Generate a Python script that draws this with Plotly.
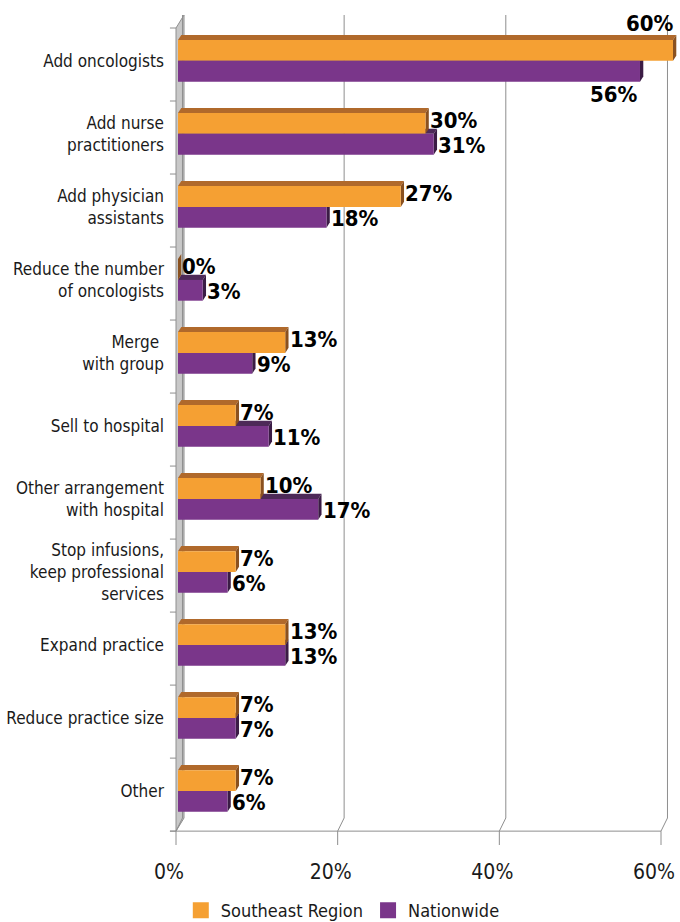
import plotly.graph_objects as go

# ---- data -------------------------------------------------------------
categories = [
    "Add oncologists",
    "Add nurse<br>practitioners",
    "Add physician<br>assistants",
    "Reduce the number<br>of oncologists",
    "Merge <br>with group",
    "Sell to hospital",
    "Other arrangement<br>with hospital",
    "Stop infusions,<br>keep professional<br>services",
    "Expand practice",
    "Reduce practice size",
    "Other",
]
southeast = [60, 30, 27, 0, 13, 7, 10, 7, 13, 7, 7]
nationwide = [56, 31, 18, 3, 9, 11, 17, 6, 13, 7, 6]
tick_values = [0, 20, 40, 60]
tick_labels = ["0%", "20%", "40%", "60%"]
series_names = ["Southeast Region", "Nationwide"]

# ---- styling ----------------------------------------------------------
ORANGE, ORANGE_TOP, ORANGE_SIDE = "#F5A033", "#B0692B", "#8A511F"
PURPLE, PURPLE_TOP, PURPLE_SIDE = "#7A368A", "#4D2958", "#3B1C45"
GRID = "#8E8E8E"
WALL = "#C8C8C8"
TEXT = "#1A1A1A"
LABEL_FONT = "DejaVu Sans Condensed, DejaVu Sans, sans-serif"
AXIS_FONT = "DejaVu Sans Condensed, DejaVu Sans, sans-serif"

# geometry of the pseudo-3D box (rows on y, percent on x)
Y_TOP, Y_BACK, Y_FLOOR, Y_BOTTOM = -0.678, 10.32, 10.5, 10.69
BACK_SHIFT = 0.8      # back plane offset in percent
BAR_W = 0.285         # bar thickness in rows
DX, DY = 0.4, 0.07    # extrusion depth of each bar

n = len(categories)
split = [i - 0.05 for i in range(n)]
se_y = [s - BAR_W / 2 for s in split]
nw_y = [s + BAR_W / 2 for s in split]

fig = go.Figure()

fig.add_trace(go.Bar(
    x=southeast, y=se_y, orientation="h", width=BAR_W,
    marker=dict(color=ORANGE, line=dict(width=0)),
    xaxis="x2", yaxis="y", showlegend=False, hoverinfo="x",
))
fig.add_trace(go.Bar(
    x=nationwide, y=nw_y, orientation="h", width=BAR_W,
    marker=dict(color=PURPLE, line=dict(width=0)),
    xaxis="x2", yaxis="y", showlegend=False, hoverinfo="x",
))

# legend entries with larger square swatches
for name, col in zip(series_names, [ORANGE, PURPLE]):
    fig.add_trace(go.Scatter(
        x=[None], y=[None], mode="markers", name=name,
        marker=dict(symbol="square", size=16, color=col),
        xaxis="x", yaxis="y",
    ))

shapes = []

# left wall
shapes.append(dict(
    type="path", xref="x", yref="y", layer="below",
    path=f"M 0,-0.5 L 0.99,{Y_TOP} L 0.99,{Y_BACK} L 0,{Y_FLOOR} Z",
    fillcolor=WALL, line=dict(color=GRID, width=1),
))
# row separator ticks on the wall
for k in range(n + 1):
    b = -0.5 + k
    shapes.append(dict(
        type="line", xref="x", yref="y", layer="below",
        x0=-0.75, x1=0, y0=b, y1=b, line=dict(color=GRID, width=1),
    ))
# floor edge
shapes.append(dict(
    type="line", xref="x", yref="y", layer="below",
    x0=-0.75, x1=tick_values[-1], y0=Y_FLOOR, y1=Y_FLOOR,
    line=dict(color=GRID, width=1),
))
# back-plane gridlines folding down to the floor ticks
for g in tick_values:
    shapes.append(dict(
        type="path", xref="x", yref="y", layer="below",
        path=(f"M {g + BACK_SHIFT},{Y_TOP} L {g + BACK_SHIFT},{Y_BACK} "
              f"L {g},{Y_FLOOR} L {g},{Y_BOTTOM}"),
        line=dict(color=GRID, width=1),
    ))

# extruded top and side faces of every bar
def faces(values, ys, top_col, side_col):
    out = []
    for v, yc in zip(values, ys):
        t, b = yc - BAR_W / 2, yc + BAR_W / 2
        out.append(dict(
            type="path", xref="x2", yref="y", layer="below",
            path=f"M 0,{t} L {v},{t} L {v + DX},{t - DY} L {DX},{t - DY} Z",
            fillcolor=top_col, line=dict(width=0),
        ))
        out.append(dict(
            type="path", xref="x2", yref="y", layer="below",
            path=f"M {v},{t} L {v + DX},{t - DY} L {v + DX},{b - DY} L {v},{b} Z",
            fillcolor=side_col, line=dict(width=0),
        ))
    return out

shapes += faces(nationwide, nw_y, PURPLE_TOP, PURPLE_SIDE)
shapes += faces(southeast, se_y, ORANGE_TOP, ORANGE_SIDE)

# value labels
annotations = []
lab_font = dict(family=LABEL_FONT, size=22, color="#000000", weight="bold")
for i in range(n):
    s, w = southeast[i], nationwide[i]
    if max(s, w) > 50:
        # long bars: labels sit above / below the bar ends
        annotations.append(dict(
            x=s + DX, y=se_y[i] - BAR_W / 2 - DY, xref="x2", yref="y",
            text=f"{s}%", showarrow=False, xanchor="right", yanchor="bottom",
            font=lab_font, yshift=-3,
        ))
        annotations.append(dict(
            x=w, y=nw_y[i] + BAR_W / 2, xref="x2", yref="y",
            text=f"{w}%", showarrow=False, xanchor="right", yanchor="top",
            font=lab_font, yshift=2,
        ))
    else:
        annotations.append(dict(
            x=s + DX, y=se_y[i], xref="x2", yref="y",
            text=f"{s}%", showarrow=False, xanchor="left", yanchor="middle",
            font=lab_font, xshift=-1, yshift=3,
        ))
        annotations.append(dict(
            x=w + DX, y=nw_y[i], xref="x2", yref="y",
            text=f"{w}%", showarrow=False, xanchor="left", yanchor="middle",
            font=lab_font, xshift=-1, yshift=-1,
        ))

fig.update_layout(
    width=680, height=922,
    margin=dict(l=168, r=0, t=15, b=77, autoexpand=False),
    paper_bgcolor="white", plot_bgcolor="white",
    barmode="overlay",
    shapes=shapes,
    annotations=annotations,
    xaxis=dict(
        range=[-0.99, 62.35], tickvals=tick_values, ticktext=tick_labels,
        showgrid=False, zeroline=False, showline=False, ticks="",
        tickfont=dict(family=AXIS_FONT, size=21, color=TEXT),
        ticklabelshift=-7, ticklabelstandoff=12, automargin=False,
    ),
    xaxis2=dict(
        range=[-1.21, 60.85], overlaying="x", anchor="y", visible=False,
    ),
    yaxis=dict(
        range=[Y_BOTTOM, Y_TOP], tickvals=split, ticktext=categories,
        showgrid=False, zeroline=False, showline=False, ticks="",
        tickfont=dict(family=AXIS_FONT, size=17, color=TEXT),
        ticklabelstandoff=3, automargin=False,
    ),
    legend=dict(
        orientation="h", x=0.025, xanchor="left", y=-0.079, yanchor="middle",
        font=dict(family=AXIS_FONT, size=18, color=TEXT),
        itemwidth=30, tracegroupgap=0,
    ),
)

fig.write_html("out.html")
